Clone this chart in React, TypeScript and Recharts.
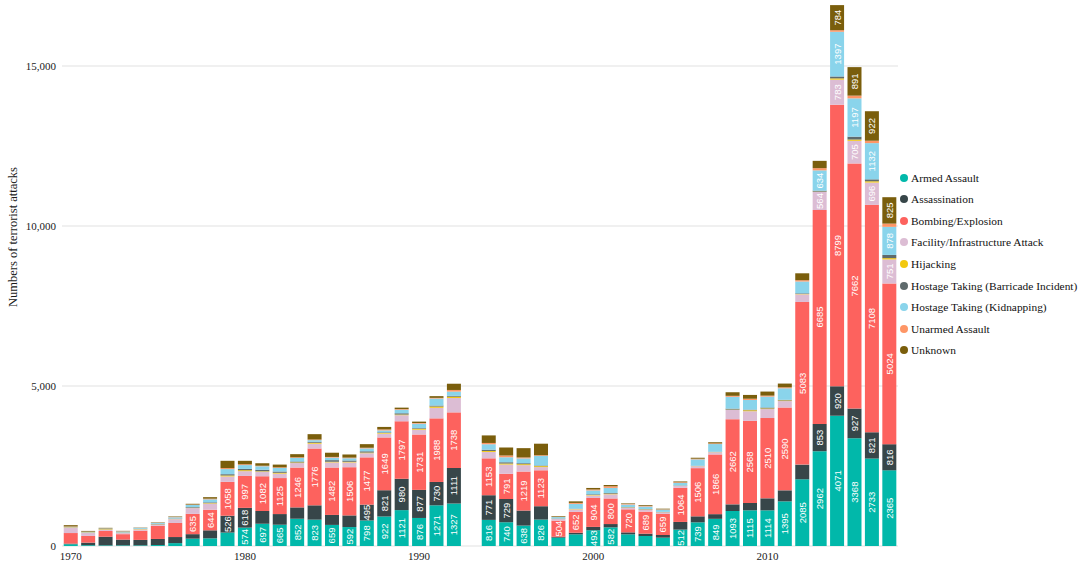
import { BarChart, Bar, XAxis, YAxis, CartesianGrid, Legend, LabelList } from 'recharts';

const years = [
  '1970', '1971', '1972', '1973', '1974', '1975', '1976', '1977', '1978', '1979',
  '1980', '1981', '1982', '1983', '1984', '1985', '1986', '1987', '1988', '1989',
  '1990', '1991', '1992', '1993', '1994', '1995', '1996', '1997', '1998', '1999',
  '2000', '2001', '2002', '2003', '2004', '2005', '2006', '2007', '2008', '2009',
  '2010', '2011', '2012', '2013', '2014', '2015', '2016', '2017',
];

// 1993 has no data in the source, kept as a gap
const armedAssault = [
  55, 25, 20, 20, 20, 30, 90, 230, 240, 420,
  574, 697, 665, 852, 823, 659, 592, 798, 922, 1121,
  876, 1271, 1327, null, 816, 740, 638, 826, 260, 364,
  493, 582, 364, 312, 260, 512, 739, 849, 1093, 1115,
  1114, 1395, 2085, 2962, 4071, 3368, 2733, 2365,
];
const assassination = [
  20, 80, 270, 180, 170, 190, 190, 140, 250, 526,
  618, 400, 333, 354, 448, 312, 364, 495, 821, 980,
  877, 730, 1111, null, 771, 729, 470, 417, 30, 50,
  104, 104, 62, 73, 83, 240, 188, 146, 208, 229,
  375, 344, 458, 853, 920, 927, 821, 816,
];
const bombing = [
  330, 210, 180, 170, 290, 410, 440, 635, 644, 1058,
  997, 1082, 1125, 1246, 1776, 1482, 1506, 1477, 1649, 1797,
  1731, 1988, 1738, null, 1153, 791, 1219, 1123, 504, 652,
  904, 800, 720, 689, 659, 1064, 1506, 1866, 2662, 2568,
  2510, 2590, 5083, 6685, 8799, 7662, 7108, 5024,
];
const facility = [
  170, 100, 40, 35, 40, 40, 120, 180, 190, 170,
  150, 140, 140, 140, 150, 160, 150, 130, 120, 190,
  150, 330, 450, null, 200, 290, 200, 100, 50, 80,
  80, 130, 50, 60, 50, 60, 60, 70, 290, 300,
  280, 200, 240, 564, 783, 705, 696, 751,
];
const hijacking = [
  10, 10, 15, 10, 10, 8, 8, 10, 15, 30,
  30, 20, 25, 20, 30, 20, 20, 20, 20, 20,
  30, 40, 40, null, 30, 30, 30, 30, 5, 10,
  15, 20, 10, 10, 5, 5, 5, 5, 10, 30,
  20, 20, 10, 10, 40, 40, 40, 40,
];
const barricade = [
  5, 5, 5, 8, 10, 15, 10, 20, 25, 40,
  40, 40, 40, 30, 30, 50, 40, 40, 20, 40,
  20, 30, 30, null, 40, 40, 30, 20, 10, 10,
  20, 20, 10, 10, 10, 10, 10, 10, 30, 20,
  30, 20, 20, 30, 60, 90, 60, 100,
];
const kidnapping = [
  10, 15, 15, 30, 30, 30, 40, 70, 95, 160,
  120, 110, 110, 110, 50, 80, 70, 90, 60, 110,
  140, 220, 130, null, 170, 150, 150, 300, 45, 150,
  120, 160, 80, 80, 70, 80, 200, 240, 370, 300,
  340, 360, 370, 634, 1397, 1197, 1132, 878,
];
const unarmed = [
  10, 5, 5, 8, 5, 5, 10, 10, 20, 30,
  25, 20, 20, 20, 20, 20, 20, 20, 30, 20,
  20, 20, 50, null, 40, 60, 30, 20, 10, 30,
  30, 50, 20, 20, 10, 20, 20, 20, 30, 40,
  30, 30, 40, 70, 49, 85, 75, 101,
];
const unknown = [
  41, 21, 18, 12, 6, 12, 15, 24, 47, 228,
  108, 77, 86, 98, 168, 132, 98, 113, 79, 46,
  43, 54, 195, null, 236, 251, 291, 361, 20, 49,
  48, 40, 17, 24, 19, 26, 30, 36, 112, 119,
  127, 117, 216, 228, 784, 891, 922, 825,
];

const yTicks = [0, 5000, 10000, 15000];

const series = [
  { key: 'armed', name: 'Armed Assault', color: '#01B8AA', values: armedAssault },
  { key: 'assassination', name: 'Assassination', color: '#374649', values: assassination },
  { key: 'bombing', name: 'Bombing/Explosion', color: '#FD625E', values: bombing },
  { key: 'facility', name: 'Facility/Infrastructure Attack', color: '#DCBDD4', values: facility },
  { key: 'hijacking', name: 'Hijacking', color: '#F2C80F', values: hijacking },
  { key: 'barricade', name: 'Hostage Taking (Barricade Incident)', color: '#5F6B6D', values: barricade },
  { key: 'kidnapping', name: 'Hostage Taking (Kidnapping)', color: '#8AD4EB', values: kidnapping },
  { key: 'unarmed', name: 'Unarmed Assault', color: '#FE9666', values: unarmed },
  { key: 'unknown', name: 'Unknown', color: '#7A5E0C', values: unknown },
];

const data = years.map((year, i) => {
  const row: Record<string, string | number | null> = { year };
  series.forEach((s) => {
    row[s.key] = s.values[i];
  });
  return row;
});

const serif = '"Liberation Serif", "Times New Roman", serif';

function SegmentLabel(props: any) {
  const { x, y, width, height, value } = props;
  if (value == null || value < 490) return null;
  const cx = x + width / 2;
  const cy = y + height / 2;
  return (
    <text
      x={cx}
      y={cy}
      transform={`rotate(-90 ${cx} ${cy})`}
      textAnchor="middle"
      dominantBaseline="central"
      fill="#fff"
      fontSize={9.5}
      fontFamily='"Liberation Sans", Arial, sans-serif'
    >
      {value}
    </text>
  );
}

function LegendList() {
  return (
    <div style={{ fontFamily: serif, fontSize: 11.4, color: '#111' }}>
      {series.map((s) => (
        <div key={s.key} style={{ display: 'flex', alignItems: 'center', height: 21.55, whiteSpace: 'nowrap' }}>
          <span
            style={{
              display: 'inline-block',
              width: 8,
              height: 8,
              borderRadius: '50%',
              background: s.color,
              marginRight: 3,
            }}
          />
          {s.name}
        </div>
      ))}
    </div>
  );
}

export default function App() {
  return (
    <div style={{ position: 'absolute', left: 0, top: 0, width: 1084, height: 568, background: '#fff' }}>
      <BarChart
        width={1084}
        height={568}
        data={data}
        margin={{ top: 2, right: 186, bottom: 2, left: 0 }}
        barCategoryGap="10%"
      >
        <CartesianGrid vertical={false} horizontalValues={yTicks} stroke="#ebebeb" strokeWidth={1.5} />
        <XAxis
          dataKey="year"
          interval={9}
          height={20}
          axisLine={false}
          tickLine={false}
          tickSize={4}
          tickMargin={2}
          tick={{ fill: '#1a1a1a', fontSize: 11, fontFamily: serif }}
        />
        <YAxis
          width={62}
          domain={[0, 17000]}
          ticks={yTicks}
          axisLine={false}
          tickLine={false}
          tickSize={4}
          tickMargin={2}
          tickFormatter={(v: number) => v.toLocaleString('en-US')}
          tick={{ fill: '#1a1a1a', fontSize: 11, fontFamily: serif }}
        />
        <Legend
          layout="vertical"
          align="center"
          verticalAlign="middle"
          content={<LegendList />}
          wrapperStyle={{ left: 900, top: 167, width: 184 }}
        />
        {series.map((s) => (
          <Bar key={s.key} dataKey={s.key} name={s.name} stackId="a" fill={s.color} isAnimationActive={false}>
            <LabelList dataKey={s.key} content={<SegmentLabel />} />
          </Bar>
        ))}
      </BarChart>
      <svg width={30} height={568} style={{ position: 'absolute', left: 0, top: 0 }}>
        <text
          x={13}
          y={237}
          transform="rotate(-90 13 237)"
          textAnchor="middle"
          dominantBaseline="central"
          fill="#1a1a1a"
          fontSize={12.5}
          fontFamily={serif}
        >
          Numbers of terrorist attacks
        </text>
      </svg>
    </div>
  );
}
